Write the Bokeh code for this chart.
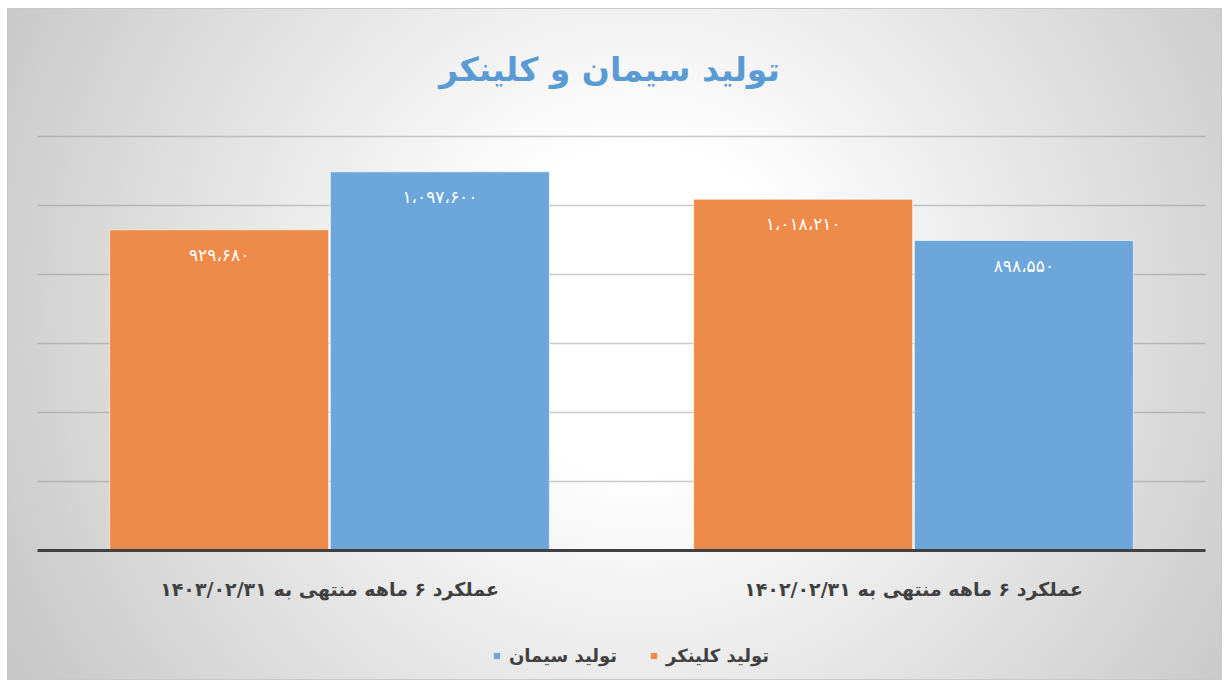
from bokeh.plotting import figure
from bokeh.models import ColumnDataSource, Range1d, Legend, LegendItem, Spacer
from bokeh.layouts import column, row
from bokeh.transform import dodge
from bokeh.core.properties import value
from bokeh.embed import file_html
from bokeh.resources import INLINE

# ---------------- data ----------------
title_text = "تولید سیمان و کلینکر"
categories = ["عملکرد ۶ ماهه منتهی به ۱۴۰۳/۰۲/۳۱", "عملکرد ۶ ماهه منتهی به ۱۴۰۲/۰۲/۳۱"]
series_names = ["تولید کلینکر", "تولید سیمان"]
clinker = [929680, 1018210]
cement = [1097600, 898550]
y_ticks = [0, 200000, 400000, 600000, 800000, 1000000, 1200000]

FONT = "DejaVu Sans"
ORANGE = "#EE8B4B"
BLUE = "#6DA6DA"

_tr = str.maketrans("0123456789,", "۰۱۲۳۴۵۶۷۸۹،")
def fa(v):
    return f"{v:,}".translate(_tr)

# ---------------- layout (pixels) ----------------
W, H = 1215, 672
PLOT_L, PLOT_R = 30, 1198      # plot area x extent inside the figure
PLOT_T, PLOT_B = 128, 542      # top gridline / axis line y inside the figure
ymax = y_ticks[-1]
upp_y = ymax / (PLOT_B - PLOT_T)          # value units per pixel
upp_x = len(categories) / (PLOT_R - PLOT_L)

xs = [i + 0.5 for i in range(len(categories))]
src = ColumnDataSource(dict(
    x=xs,
    cat=categories,
    clinker=clinker,
    cement=cement,
    clinker_lbl=[fa(v) for v in clinker],
    cement_lbl=[fa(v) for v in cement],
    zero=[0] * len(categories),
))

p = figure(width=W, height=H, output_backend="svg", toolbar_location=None,
           x_range=Range1d(-PLOT_L * upp_x, len(categories) + (W - PLOT_R) * upp_x),
           y_range=Range1d(-(H - PLOT_B) * upp_y, ymax + PLOT_T * upp_y),
           min_border=0)
p.axis.visible = False
p.grid.visible = False
p.background_fill_alpha = 0
p.border_fill_alpha = 0
p.outline_line_color = None
p.styles = {
    "background": "radial-gradient(circle farthest-corner at 52% 45%, #ffffff 0%, #ffffff 22%, #c6c6c6 100%)",
    "box-shadow": "inset 0 0 0 1px #c8c8c8",
}

# gridlines
p.segment(x0=0, x1=len(categories), y0=y_ticks[1:], y1=y_ticks[1:],
          line_color="#8c8c8c", line_alpha=0.45, line_width=1.5)

# bars
off = 0.189
w = 0.375
r_cl = p.vbar(x=dodge("x", -off), top="clinker", width=w, source=src,
              fill_color=ORANGE, line_color="white", line_alpha=0.6, line_width=1)
r_ce = p.vbar(x=dodge("x", off), top="cement", width=w, source=src,
              fill_color=BLUE, line_color="white", line_alpha=0.6, line_width=1)

# axis line
p.segment(x0=0, x1=len(categories), y0=0, y1=0, line_color="#404040", line_width=3)

# value labels
for col, dx in (("clinker", -off), ("cement", off)):
    p.text(x=dodge("x", dx), y=col, text=col + "_lbl", source=src,
           text_align="center", text_baseline="middle", y_offset=25,
           text_color="white", text_font=value(FONT), text_font_size="17px")

# category labels
p.text(x="x", y="zero", text="cat", source=src, text_align="center",
       text_baseline="middle", y_offset=38, text_color="#404040",
       text_font=value(FONT), text_font_size="19px", text_font_style="bold")

# title
p.text(x=[len(categories) / 2], y=[ymax], text=[title_text], text_align="center",
       text_baseline="middle", x_offset=-12, y_offset=-67, text_color="#5B9BD5",
       text_font=value(FONT), text_font_size="33px", text_font_style="bold")

# legend
legend = Legend(items=[LegendItem(label=series_names[1], renderers=[r_ce]),
                       LegendItem(label=series_names[0], renderers=[r_cl])],
                orientation="horizontal", location=(485, 14),
                label_text_font=FONT, label_text_font_size="18px",
                label_text_font_style="bold", label_text_color="#404040",
                glyph_width=9, glyph_height=9, spacing=32, label_standoff=8,
                padding=0, margin=0, border_line_color=None,
                background_fill_alpha=0)
p.add_layout(legend, "center")

page = column(Spacer(height=8), row(Spacer(width=7), p))
open("out.html", "w").write(file_html(page, INLINE))
